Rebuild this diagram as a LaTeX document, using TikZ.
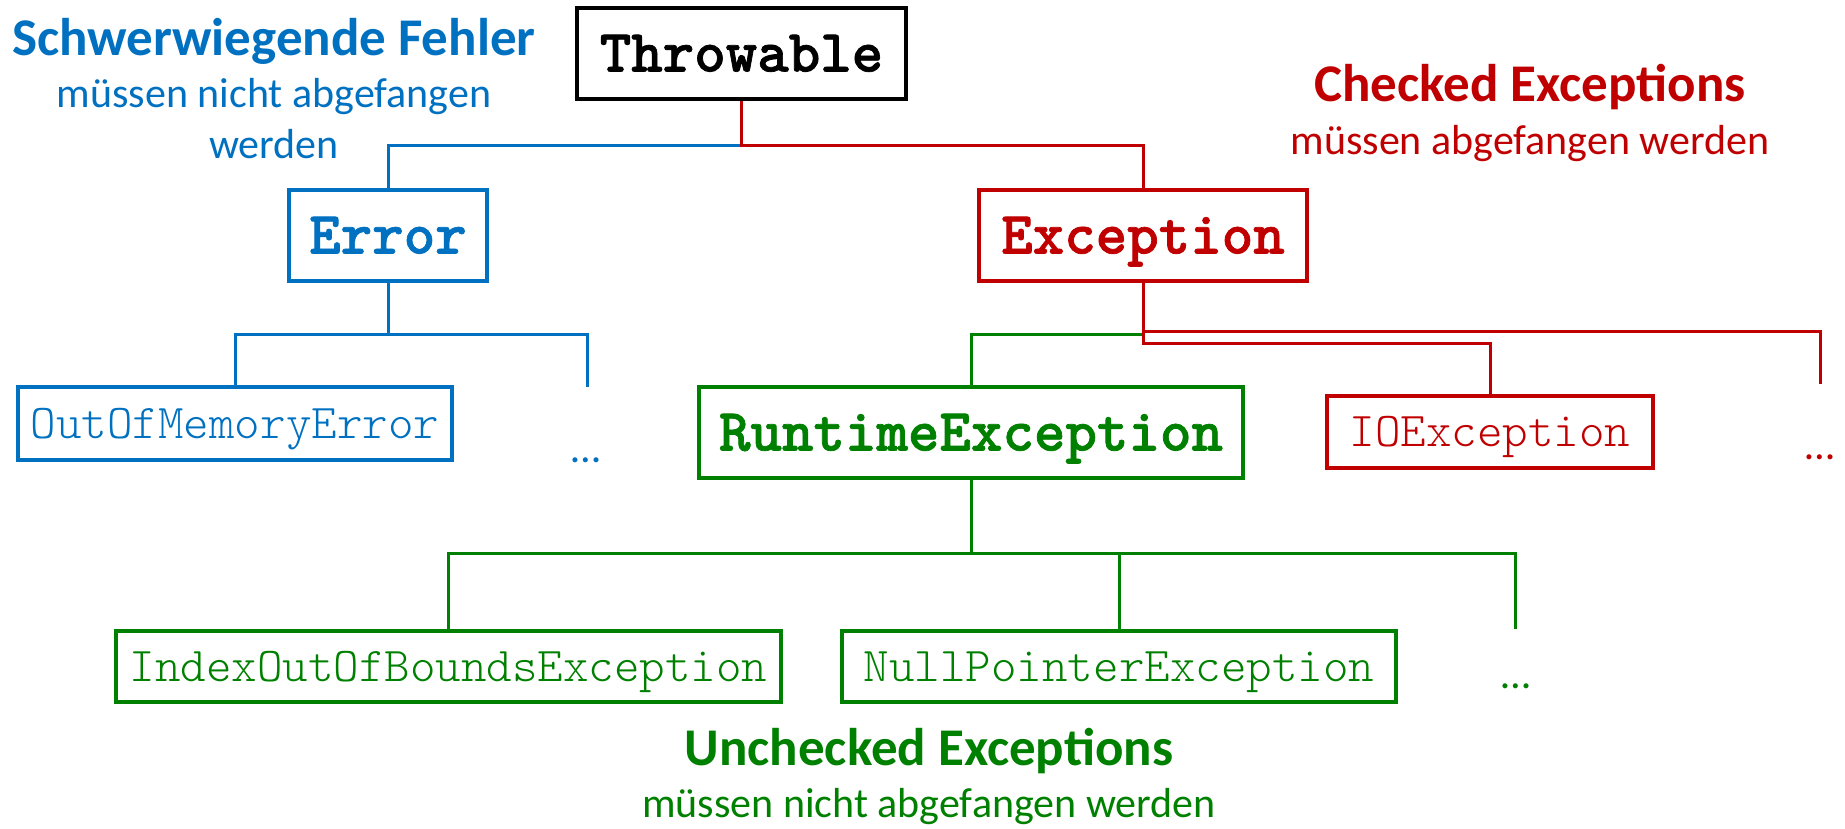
\documentclass[tikz,border=0pt]{standalone}
\usepackage{fontspec}
\setmainfont{Carlito}
\newfontfamily\monob{lmmonolt10-bold.otf}[FakeBold=1.2]
\newfontfamily\monor{lmmonolt10-regular.otf}
\definecolor{cblue}{HTML}{0070C0}
\definecolor{cred}{HTML}{C00000}
\definecolor{cgreen}{HTML}{008000}
\tikzset{
  cls/.style={draw, line width=3.5pt, inner sep=0pt, text height=36pt, text depth=0pt},
  bigcls/.style={cls, font=\monob\fontsize{60}{60}\selectfont, minimum height=91pt},
  smallcls/.style={cls, font=\monor\fontsize{48.6}{48.6}\selectfont, text height=29pt},
  link/.style={line width=3pt},
  headline/.style={anchor=base, font=\bfseries\fontsize{53}{60}\selectfont, inner sep=0pt},
  subline/.style={anchor=base, font=\fontsize{42}{50}\selectfont, inner sep=0pt},
  dots/.style={anchor=base, font=\fontsize{42}{50}\selectfont, inner sep=0pt}
}
\begin{document}
\begin{tikzpicture}[x=1pt,y=-1pt]
\useasboundingbox (0,0) rectangle (1845,829);
% class boxes
\node[bigcls, black, minimum width=329pt] (throw) at (741.5,53.5) {Throwable};
\node[bigcls, cblue, minimum width=198pt] (error) at (388,235.5) {Error};
\node[bigcls, cred, minimum width=328pt] (exc) at (1143,235.5) {Exception};
\node[smallcls, cblue, minimum width=434pt, minimum height=73pt] (oom) at (235,423.5) {OutOfMemoryError};
\node[bigcls, cgreen, minimum width=544pt] (rte) at (971,432.5) {RuntimeException};
\node[smallcls, cred, minimum width=326pt, minimum height=72pt] (ioe) at (1490,432) {IOException};
\node[smallcls, cgreen, minimum width=665pt, minimum height=71pt] (ioob) at (448.5,666.5) {IndexOutOfBoundsException};
\node[smallcls, cgreen, minimum width=554pt, minimum height=71pt] (npe) at (1119,666.5) {NullPointerException};
% open ends
\coordinate (edots) at (587,387);
\coordinate (rdots) at (1820,384);
\coordinate (gdots) at (1515,629);
% connectors
\draw[link, cblue] (throw.south) ++(0,45) -| (error.north);
\draw[link, cred] (throw.south) -- ++(0,45) -| (exc.north);
\draw[link, cblue] (error.south) -- ++(0,52) -| (oom.north);
\draw[link, cblue] (error.south) ++(0,52) -| (edots);
\draw[link, cgreen] (exc.south) ++(0,52) -| (rte.north);
\draw[link, cred] (exc.south) -- ++(0,61) -| (ioe.north);
\draw[link, cred] (exc.south) ++(0,49) -| (rdots);
\draw[link, cgreen] (rte.south) -- ++(0,74) -| (ioob.north);
\draw[link, cgreen] (rte.south) ++(0,74) -| (npe.north);
\draw[link, cgreen] (rte.south) ++(0,74) -| (gdots);
% dots
\node[dots, cblue] (bdotst) at (586,462) {…};
\node[dots, cred] (rdotst) at (1820,459) {…};
\node[dots, cgreen] (gdotst) at (1516,688) {…};
% captions
\node[headline, cblue] (sf) at (274,56) {Schwerwiegende Fehler};
\node[subline, cblue] (sf1) at (274,108) {müssen nicht abgefangen};
\node[subline, cblue] (sf2) at (274,159) {werden};
\node[headline, cred] (ce) at (1530,102) {Checked Exceptions};
\node[subline, cred] (ce1) at (1530,155) {müssen abgefangen werden};
\node[headline, cgreen] (ue) at (929,765) {Unchecked Exceptions};
\node[subline, cgreen] (ue1) at (929,817) {müssen nicht abgefangen werden};
\end{tikzpicture}
\end{document}
